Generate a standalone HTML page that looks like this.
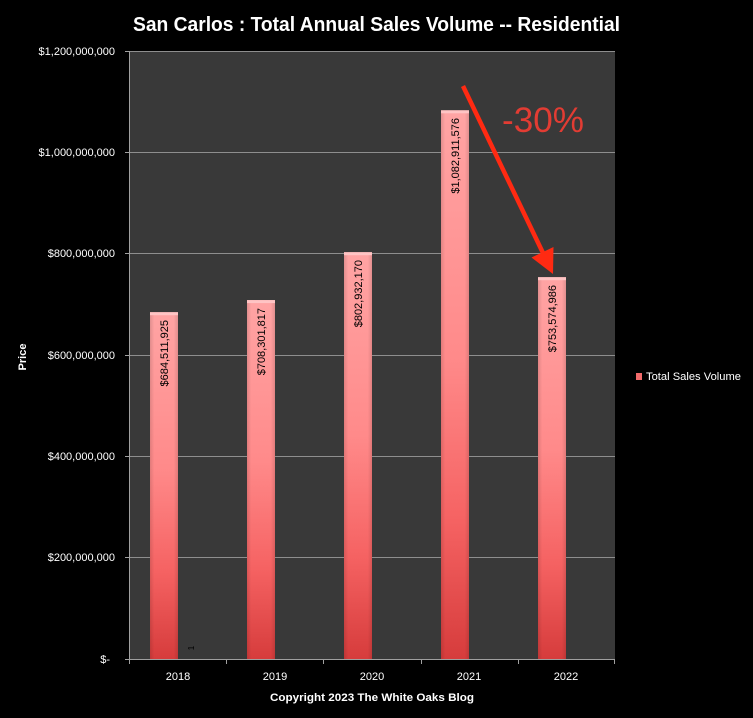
<!DOCTYPE html>
<html>
<head>
<meta charset="utf-8">
<style>
  html, body { margin:0; padding:0; background:#000; }
  svg { display:block; }
  text { font-family: "Liberation Sans", "DejaVu Sans", sans-serif; }
</style>
</head>
<body>
<svg width="753" height="718" viewBox="0 0 753 718" xmlns="http://www.w3.org/2000/svg">
  <defs>
    <linearGradient id="barg" x1="0" y1="0" x2="0" y2="1">
      <stop offset="0" stop-color="#ffa4a4"/>
      <stop offset="0.45" stop-color="#ff8a8a"/>
      <stop offset="0.75" stop-color="#f56262"/>
      <stop offset="1" stop-color="#d63c3c"/>
    </linearGradient>
    <linearGradient id="barh" x1="0" y1="0" x2="1" y2="0">
      <stop offset="0" stop-color="#000" stop-opacity="0.12"/>
      <stop offset="0.15" stop-color="#000" stop-opacity="0"/>
      <stop offset="0.85" stop-color="#000" stop-opacity="0"/>
      <stop offset="1" stop-color="#000" stop-opacity="0.12"/>
    </linearGradient>
  </defs>
  <rect width="753" height="718" fill="#000"/>

  <!-- Title -->
  <text x="376.5" y="31" font-size="20" font-weight="bold" fill="#fff" text-anchor="middle" textLength="487" lengthAdjust="spacingAndGlyphs">San Carlos : Total Annual Sales Volume -- Residential</text>

  <!-- Plot area -->
  <rect x="129" y="51" width="486" height="608" fill="#393939"/>

  <!-- Gridlines -->
  <g stroke="#8e8e8e" stroke-width="1">
    <line x1="129" y1="51.5" x2="615" y2="51.5"/>
    <line x1="129" y1="152.5" x2="615" y2="152.5"/>
    <line x1="129" y1="253.5" x2="615" y2="253.5"/>
    <line x1="129" y1="355.5" x2="615" y2="355.5"/>
    <line x1="129" y1="456.5" x2="615" y2="456.5"/>
    <line x1="129" y1="557.5" x2="615" y2="557.5"/>
  </g>

  <!-- Axes -->
  <g stroke="#a0a0a0" stroke-width="1">
    <line x1="129.5" y1="51" x2="129.5" y2="659"/>
    <line x1="125" y1="659.5" x2="615" y2="659.5"/>
    <line x1="125" y1="51.5" x2="129" y2="51.5"/>
    <line x1="125" y1="152.5" x2="129" y2="152.5"/>
    <line x1="125" y1="253.5" x2="129" y2="253.5"/>
    <line x1="125" y1="355.5" x2="129" y2="355.5"/>
    <line x1="125" y1="456.5" x2="129" y2="456.5"/>
    <line x1="125" y1="557.5" x2="129" y2="557.5"/>
    <line x1="129.5" y1="659" x2="129.5" y2="664"/>
    <line x1="226.5" y1="659" x2="226.5" y2="664"/>
    <line x1="323.5" y1="659" x2="323.5" y2="664"/>
    <line x1="421.5" y1="659" x2="421.5" y2="664"/>
    <line x1="518.5" y1="659" x2="518.5" y2="664"/>
    <line x1="614.5" y1="659" x2="614.5" y2="664"/>
  </g>

  <!-- Y labels -->
  <g font-size="11" fill="#fff" text-anchor="end">
    <text x="115" y="55">$1,200,000,000</text>
    <text x="115" y="156">$1,000,000,000</text>
    <text x="115" y="257">$800,000,000</text>
    <text x="115" y="359">$600,000,000</text>
    <text x="115" y="460">$400,000,000</text>
    <text x="115" y="561">$200,000,000</text>
    <text x="110" y="663">$-</text>
  </g>

  <!-- Y axis title -->
  <text x="0" y="0" font-size="11" font-weight="bold" fill="#fff" text-anchor="middle" transform="translate(26,357) rotate(-90)">Price</text>

  <!-- Bars -->
  <g>
    <rect x="150" y="312.2" width="28" height="346.8" fill="url(#barg)"/>
    <rect x="150" y="312.2" width="28" height="346.8" fill="url(#barh)"/>
    <rect x="150" y="312.2" width="28" height="3" fill="#ffc4c4"/>

    <rect x="247" y="300.1" width="28" height="358.9" fill="url(#barg)"/>
    <rect x="247" y="300.1" width="28" height="358.9" fill="url(#barh)"/>
    <rect x="247" y="300.1" width="28" height="3" fill="#ffc4c4"/>

    <rect x="344" y="252.2" width="28" height="406.8" fill="url(#barg)"/>
    <rect x="344" y="252.2" width="28" height="406.8" fill="url(#barh)"/>
    <rect x="344" y="252.2" width="28" height="3" fill="#ffc4c4"/>

    <rect x="441" y="110.3" width="28" height="548.7" fill="url(#barg)"/>
    <rect x="441" y="110.3" width="28" height="548.7" fill="url(#barh)"/>
    <rect x="441" y="110.3" width="28" height="3" fill="#ffc4c4"/>

    <rect x="538" y="277.2" width="28" height="381.8" fill="url(#barg)"/>
    <rect x="538" y="277.2" width="28" height="381.8" fill="url(#barh)"/>
    <rect x="538" y="277.2" width="28" height="3" fill="#ffc4c4"/>
  </g>

  <!-- Data labels -->
  <g font-size="11" fill="#000" text-anchor="end">
    <text transform="translate(168,320) rotate(-90)">$684,511,925</text>
    <text transform="translate(265,308) rotate(-90)">$708,301,817</text>
    <text transform="translate(362,260) rotate(-90)">$802,932,170</text>
    <text transform="translate(459,118) rotate(-90)">$1,082,911,576</text>
    <text transform="translate(556,285) rotate(-90)">$753,574,986</text>
  </g>
  <text transform="translate(194,648) rotate(-90)" font-size="8" fill="#000" text-anchor="middle">1</text>

  <!-- X labels -->
  <g font-size="11" fill="#fff" text-anchor="middle">
    <text x="178" y="680">2018</text>
    <text x="275" y="680">2019</text>
    <text x="372" y="680">2020</text>
    <text x="469" y="680">2021</text>
    <text x="566" y="680">2022</text>
  </g>
  <text x="372" y="701" font-size="11" font-weight="bold" fill="#fff" text-anchor="middle" textLength="204" lengthAdjust="spacingAndGlyphs">Copyright 2023 The White  Oaks Blog</text>

  <!-- Legend -->
  <rect x="636" y="373" width="6" height="7" fill="#f06a6a"/>
  <text x="646" y="380" font-size="11" fill="#fff" textLength="95" lengthAdjust="spacingAndGlyphs">Total Sales Volume</text>

  <!-- Arrow annotation -->
  <line x1="463" y1="86" x2="543" y2="253" stroke="#ff2a12" stroke-width="4.5" stroke-linecap="butt"/>
  <polygon points="553,274 531.5,257.5 553.5,247" fill="#ff2a12"/>
  <text x="502" y="132" font-size="35" fill="#e23c33" textLength="82" lengthAdjust="spacingAndGlyphs">-30%</text>
</svg>
</body>
</html>
